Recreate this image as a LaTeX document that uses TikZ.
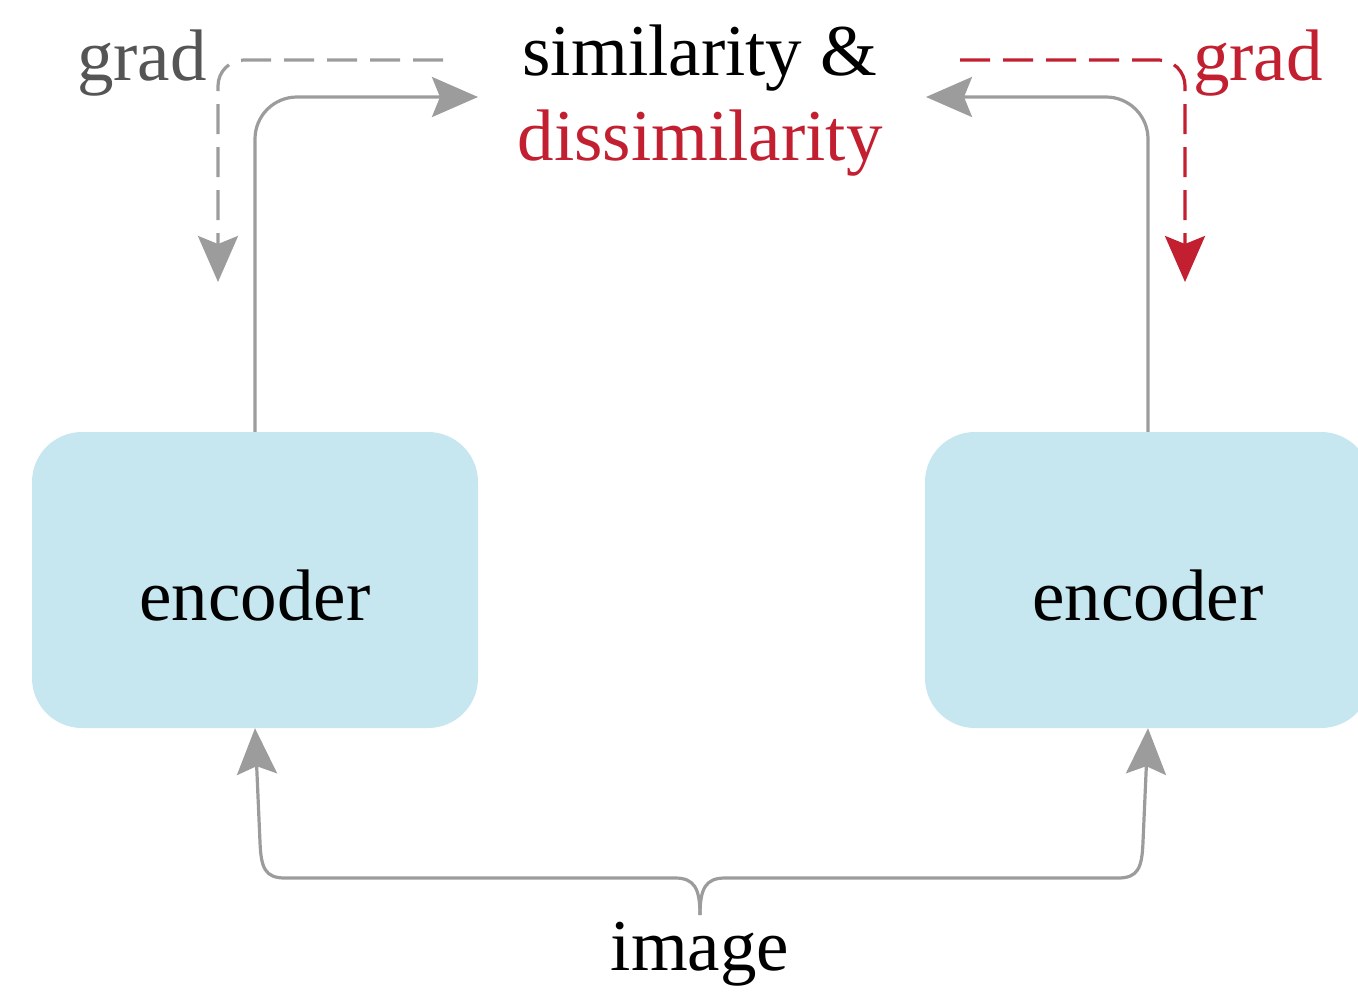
\documentclass[tikz,border=0pt]{standalone}
\usepackage{fontspec}
\setmainfont{Liberation Serif}
\usetikzlibrary{arrows.meta}
\definecolor{wire}{HTML}{9C9C9C}
\definecolor{gradtext}{HTML}{555555}
\definecolor{gradred}{HTML}{C21F30}
\definecolor{encfill}{HTML}{C6E6F0}
\tikzset{
  bigtip/.style={-{Stealth[length=46pt,width=40pt,inset=8pt]}},
  wireline/.style={draw=wire,line width=3.2pt,bigtip},
  gradline/.style={line width=3.2pt,dash pattern=on 30pt off 13pt,bigtip},
  encbox/.style={fill=encfill,rounded corners=50pt,minimum width=446pt,minimum height=296pt,inner sep=0pt},
  lbl/.style={inner sep=0pt,anchor=base,font=\fontsize{73}{85}\selectfont}
}
\begin{document}
\begin{tikzpicture}[x=1pt,y=-1pt]
  \useasboundingbox (0,0) rectangle (1358,996);

  % encoders
  \node[encbox] (encL) at (255,580) {};
  \node[encbox] (encR) at (1148,580) {};
  \node[lbl] (encLtext) at (255,620) {encoder};
  \node[lbl] (encRtext) at (1148,620) {encoder};

  % labels
  \node[lbl] (sim) at (700,75) {similarity \&};
  \node[lbl,text=gradred] (dissim) at (700,160) {dissimilarity};
  \node[lbl,text=gradtext] (gradL) at (142,80) {grad};
  \node[lbl,text=gradred] (gradR) at (1258,80) {grad};
  \node[lbl] (img) at (700,970) {image};

  % connector end points
  \coordinate (simInL) at (478,97);
  \coordinate (simInR) at (926,97);
  \coordinate (gLstart) at (443,60);
  \coordinate (gLtip) at (218,282);
  \coordinate (gRstart) at (960,60);
  \coordinate (gRtip) at (1185,282);
  \coordinate (braceTip) at (700,915);

  % features to the similarity term
  \draw[wireline,rounded corners=42pt] (encL.north) |- (simInL);
  \draw[wireline,rounded corners=42pt] (encR.north) |- (simInR);

  % gradient flow
  \draw[gradline,draw=wire,rounded corners=26pt] (gLstart) -| (gLtip);
  \draw[gradline,draw=gradred,rounded corners=26pt] (gRstart) -| (gRtip);

  % image fed to both encoders
  \draw[wireline] (braceTip) .. controls (700,888) and (694,878) .. (675,878)
     -- (285,878) .. controls (265,878) and (261,868) .. (260,842) -- (encL.south);
  \draw[wireline] (braceTip) .. controls (700,888) and (706,878) .. (725,878)
     -- (1118,878) .. controls (1138,878) and (1142,868) .. (1143,842) -- (encR.south);
\end{tikzpicture}
\end{document}
